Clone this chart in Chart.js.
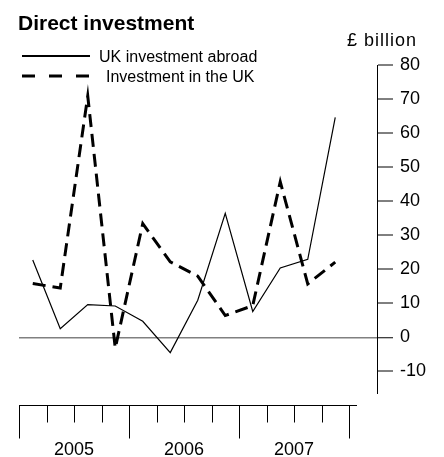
<!DOCTYPE html>
<html>
<head>
<meta charset="utf-8">
<script src="https://cdn.jsdelivr.net/npm/chart.js@4/dist/chart.umd.min.js"></script>
<style>
  body { margin: 0; background: #fff; }
  #wrap { width: 444px; height: 457px; }
</style>
</head>
<body>
<div id="wrap"><canvas id="investChart" width="444" height="457"></canvas></div>
<script>
// Quarterly data, £ billion
const quarters = ['2005 Q1', '2005 Q2', '2005 Q3', '2005 Q4',
                  '2006 Q1', '2006 Q2', '2006 Q3', '2006 Q4',
                  '2007 Q1', '2007 Q2', '2007 Q3', '2007 Q4'];
const years = ['2005', '2006', '2007'];
const ukAbroad = [22.7, 2.5, 9.6, 9.2, 4.7, -4.5, 10.9, 36.4, 7.6, 20.4, 22.9, 64.6];
const inTheUK = [15.8, 14.5, 70.9, -3.2, 33.4, 22.2, 18.0, 6.4, 9.3, 45.7, 15.7, 22.1];
const yTicks = [-10, 0, 10, 20, 30, 40, 50, 60, 70, 80];

const FONT = "'Liberation Sans', Arial, sans-serif";

function toPoints(values) {
    return values.map((v, i) => ({ x: i + 0.5, y: v, label: quarters[i] }));
}

// title, legend, unit label and the quarter/year axis underneath
const decorations = {
    id: 'decorations',
    afterDraw(chart) {
        const ctx = chart.ctx;
        const x = chart.scales.x;
        ctx.save();
        ctx.fillStyle = '#000';
        ctx.strokeStyle = '#000';
        ctx.textBaseline = 'alphabetic';

        ctx.font = 'bold 21px ' + FONT;
        ctx.textAlign = 'left';
        ctx.fillText('Direct investment', 18, 30);

        // legend
        ctx.font = '16px ' + FONT;
        ctx.lineWidth = 2;
        ctx.beginPath();
        ctx.moveTo(22, 56);
        ctx.lineTo(90, 56);
        ctx.stroke();
        ctx.fillText('UK investment abroad', 99, 62);

        ctx.lineWidth = 3;
        ctx.setLineDash([13, 14]);
        ctx.beginPath();
        ctx.moveTo(22, 76);
        ctx.lineTo(90, 76);
        ctx.stroke();
        ctx.setLineDash([]);
        ctx.fillText('Investment in the UK', 106, 82);

        ctx.font = '18px ' + FONT;
        ctx.letterSpacing = '1px';
        ctx.fillText('£ billion', 347, 46);
        ctx.letterSpacing = '0px';

        // bottom time axis
        const axisY = 405.5;
        ctx.lineWidth = 1;
        ctx.beginPath();
        ctx.moveTo(x.getPixelForValue(0), axisY);
        ctx.lineTo(x.getPixelForValue(quarters.length) + 8, axisY);
        for (let i = 0; i <= quarters.length; i++) {
            const px = Math.round(x.getPixelForValue(i)) + 0.5;
            const len = i % 4 === 0 ? 33 : 17;
            ctx.moveTo(px, axisY);
            ctx.lineTo(px, axisY + len);
        }
        ctx.stroke();

        ctx.font = '18px ' + FONT;
        ctx.textAlign = 'center';
        years.forEach((yr, k) => {
            ctx.fillText(yr, x.getPixelForValue(k * 4 + 2), 455);
        });
        ctx.restore();
    }
};

const investCtx = document.getElementById('investChart').getContext('2d');
new Chart(investCtx, {
    type: 'line',
    data: {
        datasets: [{
            label: 'UK investment abroad',
            data: toPoints(ukAbroad),
            borderColor: '#000',
            borderWidth: 1.2,
            pointRadius: 0,
            tension: 0
        }, {
            label: 'Investment in the UK',
            data: toPoints(inTheUK),
            borderColor: '#000',
            borderWidth: 3,
            borderDash: [13, 7],
            pointRadius: 0,
            tension: 0
        }]
    },
    options: {
        responsive: false,
        animation: false,
        layout: {
            padding: { left: 19, top: 65, right: 0, bottom: 63.5 }
        },
        plugins: {
            legend: { display: false },
            title: { display: false },
            tooltip: { enabled: false }
        },
        scales: {
            x: {
                type: 'linear',
                display: false,
                min: 0,
                max: 358 / 27.5
            },
            y: {
                position: 'right',
                min: -16.5,
                max: 80,
                afterBuildTicks: (scale) => {
                    scale.ticks = yTicks.map(v => ({ value: v }));
                },
                afterFit: (scale) => {
                    scale.width = 67;
                },
                border: { display: true, color: '#000', width: 1 },
                grid: {
                    drawOnChartArea: true,
                    drawTicks: true,
                    tickLength: 16,
                    tickColor: '#000',
                    tickWidth: 1,
                    color: (c) => (c.tick && c.tick.value === 0 ? '#808080' : 'rgba(0,0,0,0)'),
                    lineWidth: (c) => (c.tick && c.tick.value === 0 ? 1.5 : 0)
                },
                ticks: {
                    color: '#000',
                    padding: 7,
                    font: { family: FONT, size: 18 }
                }
            }
        }
    },
    plugins: [decorations]
});
</script>
</body>
</html>
